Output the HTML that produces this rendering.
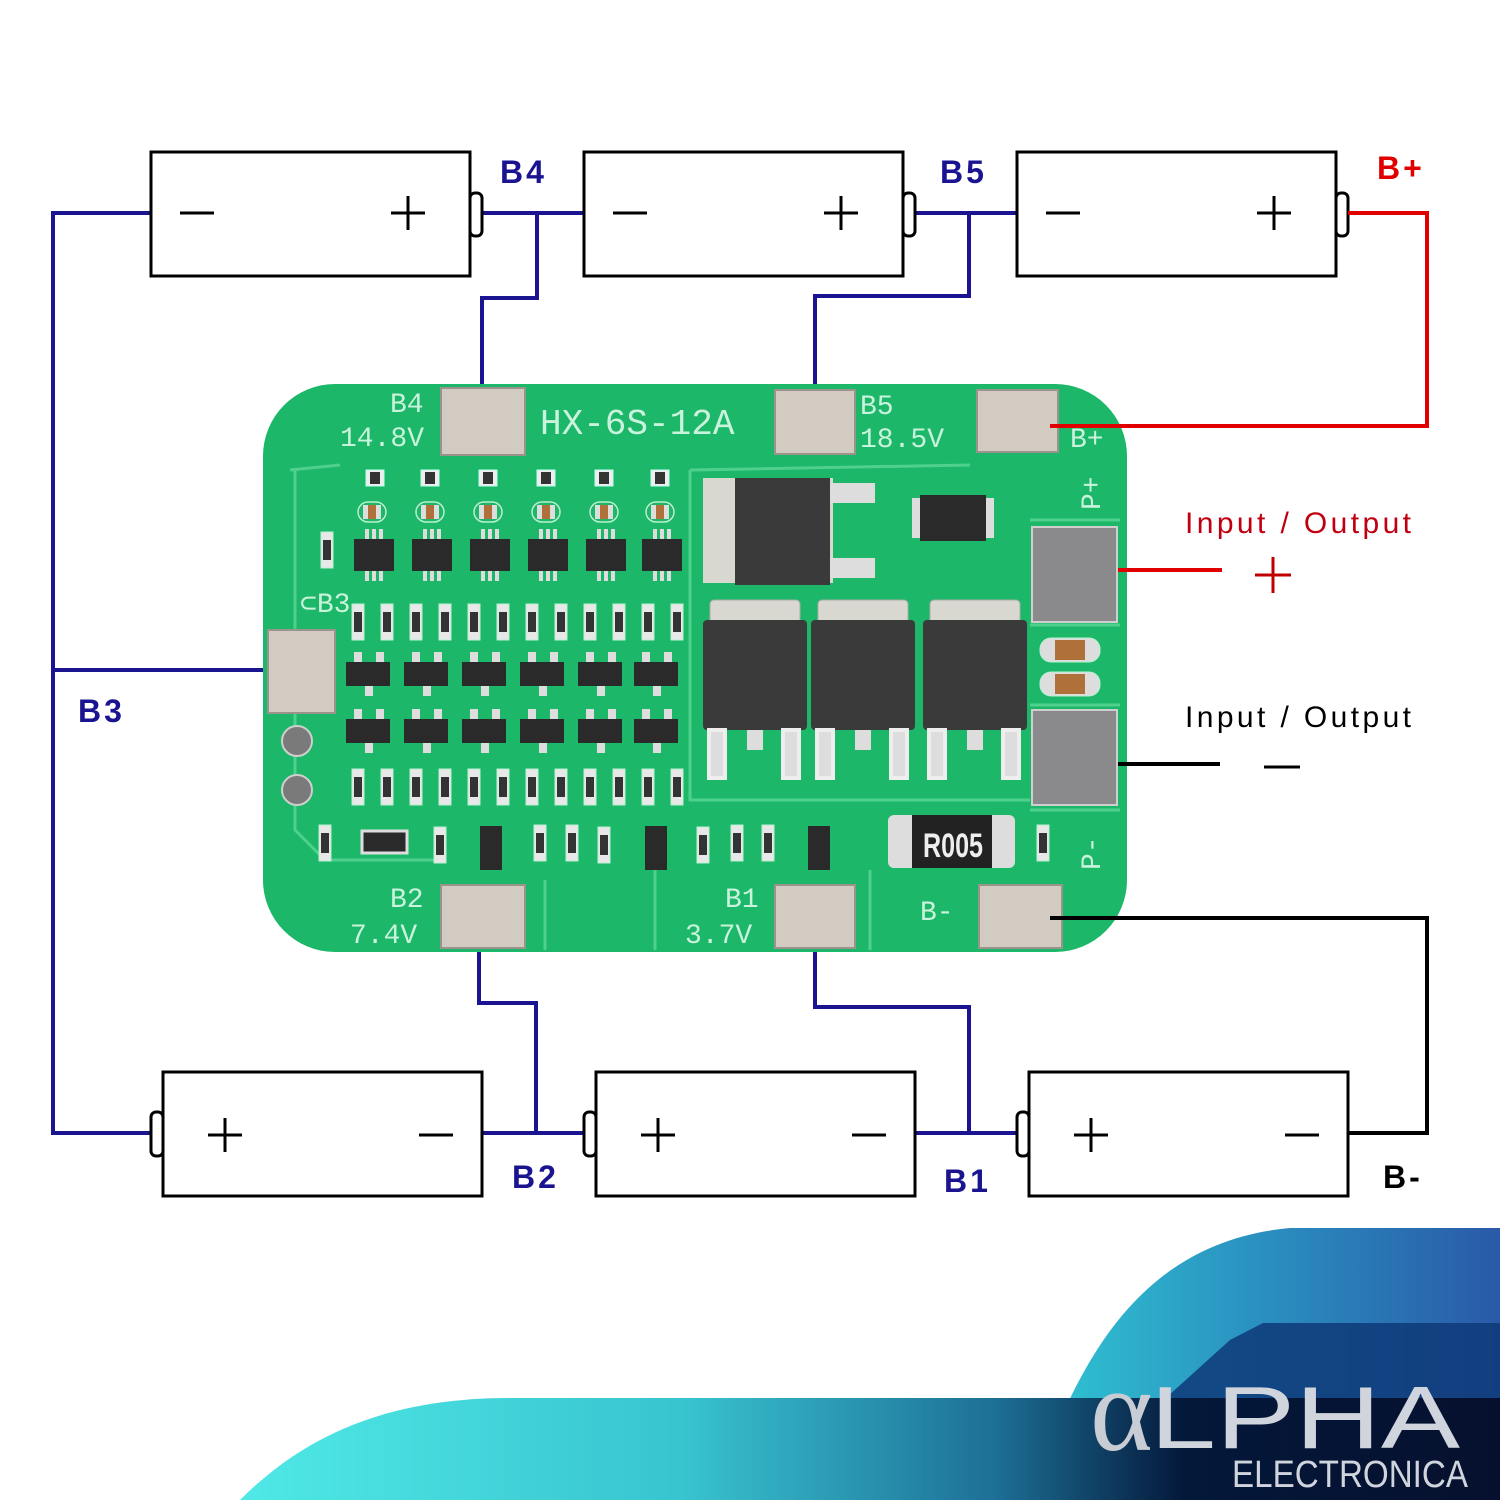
<!DOCTYPE html>
<html><head><meta charset="utf-8"><style>
html,body{margin:0;padding:0;background:#fff;}
svg{display:block}
</style></head><body>
<svg width="1500" height="1500" viewBox="0 0 1500 1500" xmlns="http://www.w3.org/2000/svg">
<defs>
<linearGradient id="g1" x1="0" y1="0" x2="1" y2="0">
<stop offset="0" stop-color="#30c8d4"/><stop offset="0.5" stop-color="#2a8fc0"/><stop offset="1" stop-color="#2a5aa8"/></linearGradient>
<linearGradient id="g2" x1="0" y1="0" x2="1" y2="0">
<stop offset="0" stop-color="#4fe9e6"/><stop offset="0.35" stop-color="#38c4d0"/><stop offset="0.6" stop-color="#1d6f96"/><stop offset="0.75" stop-color="#04183a"/><stop offset="1" stop-color="#06102e"/></linearGradient>
<g id="res"><rect x="-9" y="-8" width="18" height="16" fill="#eee" stroke="#bfe" stroke-width="1"/><rect x="-5" y="-6" width="10" height="12" fill="#333"/></g>
<g id="cap"><rect x="-14" y="-10" width="28" height="20" rx="10" fill="none" stroke="#b8f0d0" stroke-width="1.5"/><rect x="-9" y="-7" width="18" height="14" fill="#ddd"/><rect x="-4" y="-7" width="8" height="14" fill="#b0703a"/></g>
<g id="sot6"><rect x="-9" y="-26" width="4" height="10" fill="#ddd"/><rect x="-2" y="-26" width="4" height="10" fill="#ddd"/><rect x="5" y="-26" width="4" height="10" fill="#ddd"/><rect x="-9" y="16" width="4" height="10" fill="#ddd"/><rect x="-2" y="16" width="4" height="10" fill="#ddd"/><rect x="5" y="16" width="4" height="10" fill="#ddd"/><rect x="-20" y="-16" width="40" height="32" fill="#2a2a2a"/></g>
<g id="sr"><rect x="-6" y="-18" width="12" height="36" fill="#e8e8e8" stroke="#b8f0d0"/><rect x="-4" y="-10" width="8" height="20" fill="#333"/></g>
<g id="sot3"><rect x="-14" y="-22" width="8" height="10" fill="#ddd"/><rect x="8" y="-22" width="8" height="10" fill="#ddd"/><rect x="-3" y="12" width="8" height="10" fill="#ddd"/><rect x="-22" y="-12" width="44" height="24" fill="#2a2a2a"/></g>
<g id="fet"><rect x="-45" y="-70" width="90" height="30" rx="4" fill="#d8d8d0" stroke="#aaa"/><rect x="-52" y="-50" width="104" height="110" rx="4" fill="#3a3a3a"/><rect x="-46" y="60" width="16" height="48" fill="#ddd" stroke="#eee" stroke-width="4"/><rect x="-8" y="60" width="16" height="20" fill="#ddd"/><rect x="28" y="60" width="16" height="48" fill="#ddd" stroke="#eee" stroke-width="4"/></g>
</defs>

<path d="M1500 1228 L1290 1228 C1160 1240 1100 1330 1060 1420 L1025 1500 L1500 1500 Z" fill="url(#g1)"/>
<path d="M1263 1323 L1500 1323 L1500 1500 L1053 1500 L1230 1340 Z" fill="#0e3a78" opacity="0.85"/>
<path d="M240 1500 C300 1440 380 1398 510 1398 L1500 1398 L1500 1500 Z" fill="url(#g2)"/>
<text x="1090" y="1450" font-family="Liberation Serif, serif" font-size="120" fill="#c8ccd4">α</text>
<text x="1150" y="1448" font-family="Liberation Sans, sans-serif" font-size="88" fill="#d0d4dc" textLength="310" lengthAdjust="spacingAndGlyphs">LPHA</text>
<text x="1232" y="1487" font-family="Liberation Sans, sans-serif" font-size="38" fill="#d0d4dc" textLength="236" lengthAdjust="spacingAndGlyphs">ELECTRONICA</text>

<g fill="none" stroke="#1a1490" stroke-width="4">
<polyline points="151,213 53,213 53,1133 151,1133"/>
<polyline points="53,670 268,670"/>
<polyline points="482,213 584,213"/>
<polyline points="537,213 537,298 482,298 482,386"/>
<polyline points="915,213 1017,213"/>
<polyline points="969,213 969,296 815,296 815,388"/>
<polyline points="482,1133 596,1133"/>
<polyline points="536,1133 536,1003 479,1003 479,950"/>
<polyline points="915,1133 1029,1133"/>
<polyline points="969,1133 969,1007 815,1007 815,950"/>
</g>
<line x1="1264" y1="767" x2="1300" y2="767" stroke="#000" stroke-width="3"/>
<g stroke="#c00000" stroke-width="3"><line x1="1255" y1="575" x2="1291" y2="575"/><line x1="1273" y1="557" x2="1273" y2="593"/></g>

<g fill="#fff" stroke="#000" stroke-width="3">
<rect x="151" y="152" width="319" height="124"/><rect x="470" y="193" width="12" height="43" rx="5"/>
<rect x="584" y="152" width="319" height="124"/><rect x="903" y="193" width="12" height="43" rx="5"/>
<rect x="1017" y="152" width="319" height="124"/><rect x="1336" y="193" width="12" height="43" rx="5"/>
<rect x="163" y="1072" width="319" height="124"/><rect x="151" y="1112" width="12" height="44" rx="5"/>
<rect x="596" y="1072" width="319" height="124"/><rect x="584" y="1112" width="12" height="44" rx="5"/>
<rect x="1029" y="1072" width="319" height="124"/><rect x="1017" y="1112" width="12" height="44" rx="5"/>
</g>
<g stroke="#000" stroke-width="3">
<line x1="180" y1="213" x2="214" y2="213"/><line x1="391" y1="213" x2="425" y2="213"/><line x1="408" y1="196" x2="408" y2="230"/>
<line x1="613" y1="213" x2="647" y2="213"/><line x1="824" y1="213" x2="858" y2="213"/><line x1="841" y1="196" x2="841" y2="230"/>
<line x1="1046" y1="213" x2="1080" y2="213"/><line x1="1257" y1="213" x2="1291" y2="213"/><line x1="1274" y1="196" x2="1274" y2="230"/>
<line x1="208" y1="1135" x2="242" y2="1135"/><line x1="225" y1="1118" x2="225" y2="1152"/><line x1="419" y1="1135" x2="453" y2="1135"/>
<line x1="641" y1="1135" x2="675" y2="1135"/><line x1="658" y1="1118" x2="658" y2="1152"/><line x1="852" y1="1135" x2="886" y2="1135"/>
<line x1="1074" y1="1135" x2="1108" y2="1135"/><line x1="1091" y1="1118" x2="1091" y2="1152"/><line x1="1285" y1="1135" x2="1319" y2="1135"/>
</g>

<g font-family="Liberation Sans, sans-serif" font-weight="bold" font-size="32" letter-spacing="3">
<text x="500" y="183" fill="#1a1490">B4</text>
<text x="940" y="183" fill="#1a1490">B5</text>
<text x="1377" y="179" fill="#e00000">B+</text>
<text x="78" y="722" fill="#1a1490">B3</text>
<text x="512" y="1188" fill="#1a1490">B2</text>
<text x="944" y="1192" fill="#1a1490">B1</text>
<text x="1383" y="1188" fill="#000">B-</text>
</g>
<text x="1185" y="533" font-family="Liberation Sans, sans-serif" font-size="30" letter-spacing="3.4" fill="#c00010">Input / Output</text>
<text x="1185" y="727" font-family="Liberation Sans, sans-serif" font-size="30" letter-spacing="3.4" fill="#000">Input / Output</text>

<rect x="263" y="384" width="864" height="568" rx="72" fill="#1cb768"/>
<g fill="none" stroke="#4fd08c" stroke-width="3">
<path d="M290 470 L340 465 M295 470 L295 830 L325 860 L440 860"/>
<path d="M690 470 L970 465 M690 470 L690 800 L1030 800"/>
<path d="M1030 520 L1120 520 M1030 625 L1120 625 M1030 705 L1120 705 M1030 810 L1120 810"/>
<path d="M655 870 L655 950 M870 870 L870 950 M545 880 L545 950"/>
</g>
<g fill="#d2cbc2" stroke="#9a948c" stroke-width="2">
<rect x="441" y="388" width="84" height="67"/><rect x="775" y="390" width="80" height="64"/><rect x="977" y="390" width="81" height="62"/>
<rect x="268" y="630" width="67" height="83"/>
<rect x="441" y="885" width="84" height="63"/><rect x="775" y="885" width="80" height="63"/><rect x="979" y="885" width="83" height="63"/>
</g>
<g fill="#8a8a8c" stroke="#cfcfcf" stroke-width="2">
<rect x="1032" y="527" width="85" height="95"/><rect x="1032" y="710" width="85" height="95"/>
<circle cx="297" cy="741" r="15" fill="#7a7a7a"/><circle cx="297" cy="790" r="15" fill="#7a7a7a"/>
</g>
<g font-family="Liberation Mono, monospace" fill="#c9f3dc" font-size="28">
<text x="390" y="412">B4</text><text x="340" y="446">14.8V</text>
<text x="540" y="434" font-size="36">HX-6S-12A</text>
<text x="860" y="414">B5</text><text x="860" y="447">18.5V</text>
<text x="1070" y="447">B+</text>
<text x="390" y="907">B2</text><text x="350" y="943">7.4V</text>
<text x="725" y="907">B1</text><text x="685" y="943">3.7V</text>
<text x="920" y="920">B-</text>
<text x="300" y="612">⊂B3</text>
<text transform="translate(1100,510) rotate(-90)">P+</text>
<text transform="translate(1100,870) rotate(-90)">P-</text>
</g>

<g>
<use href="#res" x="375" y="478"/><use href="#res" x="430" y="478"/><use href="#res" x="488" y="478"/><use href="#res" x="546" y="478"/><use href="#res" x="604" y="478"/><use href="#res" x="660" y="478"/>
<use href="#cap" x="372" y="512"/><use href="#cap" x="430" y="512"/><use href="#cap" x="488" y="512"/><use href="#cap" x="546" y="512"/><use href="#cap" x="604" y="512"/><use href="#cap" x="660" y="512"/>
<use href="#sot6" x="374" y="555"/><use href="#sot6" x="432" y="555"/><use href="#sot6" x="490" y="555"/><use href="#sot6" x="548" y="555"/><use href="#sot6" x="606" y="555"/><use href="#sot6" x="662" y="555"/>
<use href="#sr" x="358" y="622"/><use href="#sr" x="387" y="622"/><use href="#sr" x="416" y="622"/><use href="#sr" x="445" y="622"/><use href="#sr" x="474" y="622"/><use href="#sr" x="503" y="622"/><use href="#sr" x="532" y="622"/><use href="#sr" x="561" y="622"/><use href="#sr" x="590" y="622"/><use href="#sr" x="619" y="622"/><use href="#sr" x="648" y="622"/><use href="#sr" x="677" y="622"/>
<use href="#sot3" x="368" y="674"/><use href="#sot3" x="426" y="674"/><use href="#sot3" x="484" y="674"/><use href="#sot3" x="542" y="674"/><use href="#sot3" x="600" y="674"/><use href="#sot3" x="656" y="674"/>
<use href="#sot3" x="368" y="731"/><use href="#sot3" x="426" y="731"/><use href="#sot3" x="484" y="731"/><use href="#sot3" x="542" y="731"/><use href="#sot3" x="600" y="731"/><use href="#sot3" x="656" y="731"/>
<use href="#sr" x="358" y="787"/><use href="#sr" x="387" y="787"/><use href="#sr" x="416" y="787"/><use href="#sr" x="445" y="787"/><use href="#sr" x="474" y="787"/><use href="#sr" x="503" y="787"/><use href="#sr" x="532" y="787"/><use href="#sr" x="561" y="787"/><use href="#sr" x="590" y="787"/><use href="#sr" x="619" y="787"/><use href="#sr" x="648" y="787"/><use href="#sr" x="677" y="787"/>
<use href="#sr" x="325" y="843"/><use href="#sr" x="440" y="845"/><use href="#sr" x="540" y="843"/><use href="#sr" x="572" y="843"/><use href="#sr" x="604" y="845"/><use href="#sr" x="703" y="845"/><use href="#sr" x="737" y="843"/><use href="#sr" x="768" y="843"/>
<use href="#sr" x="1043" y="843"/><use href="#sr" x="327" y="550"/>
<rect x="362" y="831" width="45" height="22" fill="#2a2a2a" stroke="#ddd" stroke-width="3"/>
<rect x="480" y="826" width="22" height="44" fill="#2a2a2a"/><rect x="645" y="826" width="22" height="44" fill="#2a2a2a"/><rect x="808" y="826" width="22" height="44" fill="#2a2a2a"/>
</g>
<rect x="703" y="478" width="130" height="105" fill="#d8d8d0"/>
<rect x="735" y="478" width="95" height="107" fill="#3a3a3a"/>
<rect x="830" y="483" width="45" height="20" fill="#ddd"/><rect x="830" y="558" width="45" height="20" fill="#ddd"/>
<rect x="912" y="498" width="82" height="40" fill="#ddd"/><rect x="920" y="495" width="66" height="46" fill="#2a2a2a"/>
<use href="#fet" x="755" y="670"/><use href="#fet" x="863" y="670"/><use href="#fet" x="975" y="670"/>
<rect x="1040" y="638" width="60" height="24" rx="11" fill="#ddd" stroke="#b8f0d0"/><rect x="1055" y="640" width="30" height="20" fill="#b0703a"/>
<rect x="1040" y="672" width="60" height="24" rx="11" fill="#ddd" stroke="#b8f0d0"/><rect x="1055" y="674" width="30" height="20" fill="#b0703a"/>
<rect x="888" y="815" width="127" height="53" rx="6" fill="#ddd"/><rect x="912" y="815" width="80" height="53" fill="#222"/>
<text x="923" y="857" font-family="Liberation Sans, sans-serif" font-size="34" font-weight="bold" fill="#eee" textLength="60" lengthAdjust="spacingAndGlyphs">R005</text>

<polyline points="1348,213 1427,213 1427,426 1050,426" fill="none" stroke="#e00000" stroke-width="4"/>
<polyline points="1050,918 1427,918 1427,1133 1348,1133" fill="none" stroke="#000" stroke-width="4"/>
<line x1="1118" y1="570" x2="1222" y2="570" stroke="#e00000" stroke-width="4"/>
<line x1="1118" y1="764" x2="1220" y2="764" stroke="#000" stroke-width="4"/>
</svg>
</body></html>
